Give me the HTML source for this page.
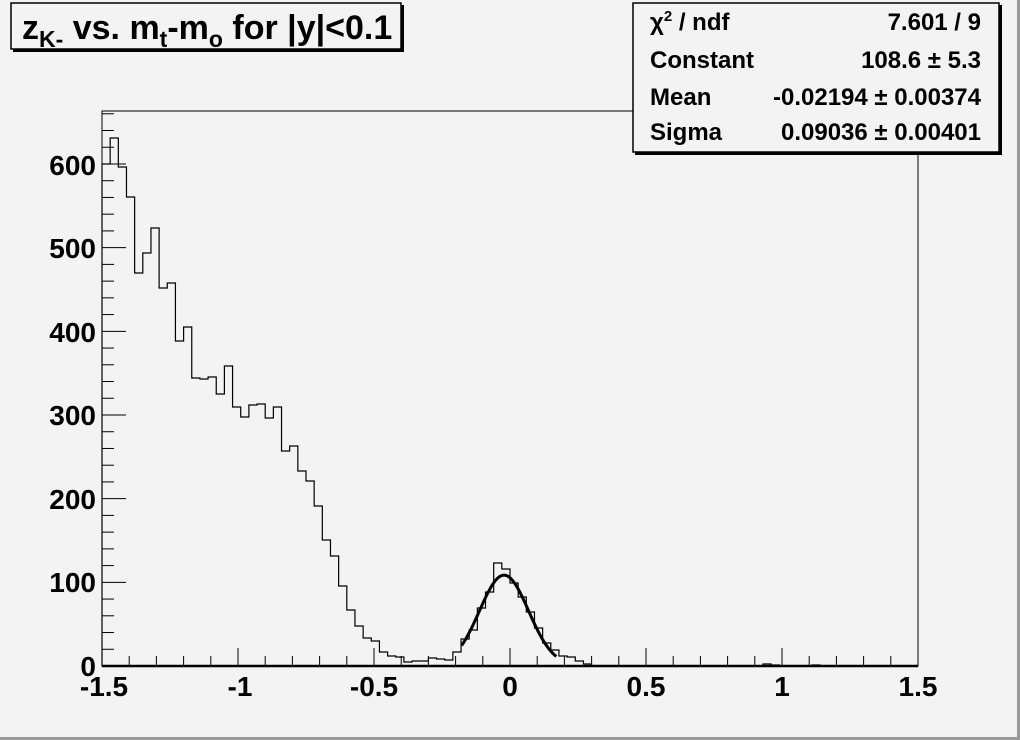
<!DOCTYPE html>
<html><head><meta charset="utf-8"><style>
html,body{margin:0;padding:0;background:#f3f3f3}
svg{display:block}
text{font-family:"Liberation Sans",Arial,sans-serif;font-weight:bold;fill:#000}
</style></head><body>
<svg id="s" width="1020" height="740" xmlns="http://www.w3.org/2000/svg">
<rect x="0" y="0" width="1020" height="740" fill="#f3f3f3"/>
<line x1="0" y1="738.5" x2="1020" y2="738.5" stroke="#999" stroke-width="3"/>
<line x1="1018.5" y1="0" x2="1018.5" y2="740" stroke="#999" stroke-width="3"/>
<rect x="102" y="111" width="816" height="555" fill="#f3f3f3" stroke="#000" stroke-width="1"/>
<g id="ax" stroke="#000" stroke-width="1"></g>
<path id="h" fill="none" stroke="#000" stroke-width="1.2"/>
<path id="f" fill="none" stroke="#000" stroke-width="3"/>
<line x1="102" y1="666" x2="918" y2="666" stroke="#000" stroke-width="2.5"/>
<g style="font-size:28px" text-anchor="end">
<text x="96" y="592">100</text><text x="96" y="509">200</text><text x="96" y="425">300</text>
<text x="96" y="342">400</text><text x="96" y="258">500</text><text x="96" y="175">600</text>
<text x="96" y="676">0</text>
</g>
<g style="font-size:28px" text-anchor="middle">
<text x="104" y="696">-1.5</text><text x="240" y="696">-1</text><text x="374" y="696">-0.5</text>
<text x="510" y="696">0</text><text x="646" y="696">0.5</text><text x="782" y="696">1</text><text x="918" y="696">1.5</text>
</g>
<rect x="13" y="5" width="391" height="47" fill="#000"/>
<rect x="11" y="3" width="390" height="46" fill="#f3f3f3" stroke="#000" stroke-width="1.5"/>
<text x="22" y="39" style="font-size:34px">z<tspan style="font-size:23px" dy="8">K-</tspan><tspan dy="-8"> vs. m</tspan><tspan style="font-size:23px" dy="8">t</tspan><tspan dy="-8">-m</tspan><tspan style="font-size:23px" dy="8">o</tspan><tspan dy="-8"> for |y|&lt;0.1</tspan></text>
<rect x="635" y="5" width="367" height="150" fill="#000"/>
<rect x="633" y="3" width="366" height="149" fill="#f3f3f3" stroke="#000" stroke-width="1.5"/>
<g style="font-size:24px">
<text x="650" y="30">χ<tspan style="font-size:15px" dy="-9">2</tspan><tspan dy="9"> / ndf</tspan></text>
<text x="650" y="68">Constant</text><text x="650" y="105">Mean</text><text x="650" y="140">Sigma</text>
</g>
<g style="font-size:24px" text-anchor="end">
<text x="981" y="30">7.601 / 9</text><text x="981" y="68">108.6 ± 5.3</text>
<text x="981" y="105">-0.02194 ± 0.00374</text><text x="981" y="140">0.09036 ± 0.00401</text>
</g>
</svg>
<script>
var tops=[164,138,167,197,273,253,228,288,283,341,327,378,379,377,394,366,407,417,405,404,418,407,451,446,471,481,506,540,556,586,610,626,638,641,652,656,657,662,661,661,658,659,660,652,639,630,608,592,563,569,583,597,612,628,643,650,656,657,661,664];
while(tops.length<100)tops.push(666);
tops[81]=664;tops[82]=665;tops[87]=665;
var bw=816/100,d="M102 666";
for(var i=0;i<100;i++){var x0=102+bw*i,x1=x0+bw;d+=" L"+x0.toFixed(2)+" "+tops[i]+" L"+x1.toFixed(2)+" "+tops[i];}
d+=" L918 666";
document.getElementById("h").setAttribute("d",d);
var fd="";
for(var u=-0.178;u<=0.1725;u+=0.004){var c=108.6*Math.exp(-0.5*Math.pow((u+0.02194)/0.09036,2));var px=102+(u+1.5)*272,py=666-c*0.8367;fd+=(fd?" L":"M")+px.toFixed(2)+" "+py.toFixed(2);}
document.getElementById("f").setAttribute("d",fd);
var g=document.getElementById("ax"),s="";
for(var k=0;k<=30;k++){var x=102+k*27.2;var L=(k%5==0)?18:10;s+='<line x1="'+x+'" y1="666" x2="'+x+'" y2="'+(666-L)+'"/>';}
for(var k=0;k<=33;k++){var y=666-k*20*0.8367;if(y<111)break;var L=(k%5==0)?24:12;s+='<line x1="102" y1="'+y+'" x2="'+(102+L)+'" y2="'+y+'"/>';}
g.innerHTML=s;
</script>
</body></html>
